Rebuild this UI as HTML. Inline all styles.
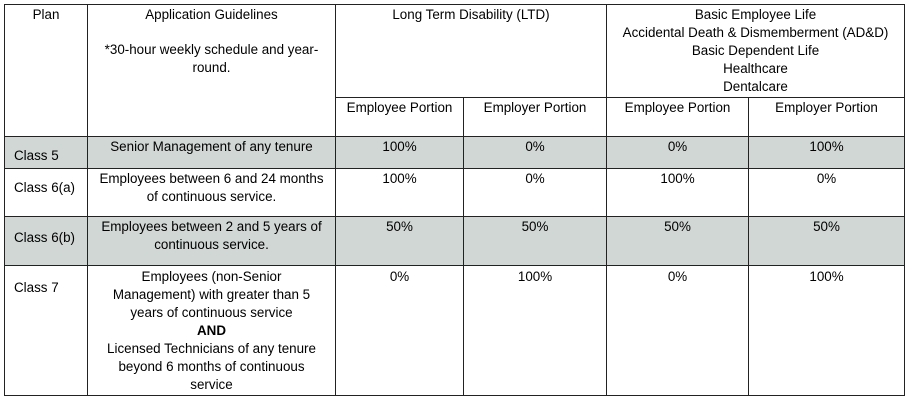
<!DOCTYPE html>
<html><head><style>
body{margin:0;width:909px;height:401px;background:#fff;position:relative;font-family:"Liberation Sans",Arial,sans-serif;font-size:13.4px;color:#000;overflow:hidden}
.b{position:absolute;box-sizing:border-box}
.h{background:#222}
.g{position:absolute;background:#d0d7d5}
.t{position:absolute;text-align:center;line-height:18px;white-space:nowrap}
</style></head><body>
<div class="g" style="left:4px;top:136px;width:900px;height:32px"></div>
<div class="g" style="left:4px;top:216px;width:900px;height:49px"></div>
<div class="b h" style="left:4px;top:4px;width:901px;height:1px"></div>
<div class="b h" style="left:335px;top:97px;width:570px;height:1px"></div>
<div class="b h" style="left:4px;top:136px;width:901px;height:1px"></div>
<div class="b h" style="left:4px;top:168px;width:901px;height:1px"></div>
<div class="b h" style="left:4px;top:216px;width:901px;height:1px"></div>
<div class="b h" style="left:4px;top:265px;width:901px;height:1px"></div>
<div class="b h" style="left:4px;top:395px;width:901px;height:1px"></div>
<div class="b h" style="left:4px;top:4px;width:1px;height:392px"></div>
<div class="b h" style="left:87px;top:4px;width:1px;height:392px"></div>
<div class="b h" style="left:335px;top:4px;width:1px;height:392px"></div>
<div class="b h" style="left:463px;top:97px;width:1px;height:299px"></div>
<div class="b h" style="left:606px;top:4px;width:1px;height:392px"></div>
<div class="b h" style="left:748px;top:97px;width:1px;height:299px"></div>
<div class="b h" style="left:904px;top:4px;width:1px;height:392px"></div>

<div class="t" style="left:5px;width:82px;top:6px">Plan</div>
<div class="t" style="left:88px;width:247px;top:6px">Application Guidelines</div>
<div class="t" style="left:88px;width:247px;top:41px">*30-hour weekly schedule and year-<br>round.</div>
<div class="t" style="left:336px;width:270px;top:6px">Long Term Disability (LTD)</div>
<div class="t" style="left:607px;width:297px;top:6px">Basic Employee Life<br>Accidental Death &amp; Dismemberment (AD&amp;D)<br>Basic Dependent Life<br>Healthcare<br>Dentalcare</div>
<div class="t" style="left:336px;width:127px;top:99px">Employee Portion</div>
<div class="t" style="left:464px;width:142px;top:99px">Employer Portion</div>
<div class="t" style="left:607px;width:141px;top:99px">Employee Portion</div>
<div class="t" style="left:749px;width:155px;top:99px">Employer Portion</div>

<div class="t" style="left:14px;top:147px;text-align:left">Class 5</div>
<div class="t" style="left:88px;width:247px;top:138px">Senior Management of any tenure</div>
<div class="t" style="left:336px;width:127px;top:138px">100%</div>
<div class="t" style="left:464px;width:142px;top:138px">0%</div>
<div class="t" style="left:607px;width:141px;top:138px">0%</div>
<div class="t" style="left:749px;width:155px;top:138px">100%</div>

<div class="t" style="left:14px;top:179px;text-align:left">Class 6(a)</div>
<div class="t" style="left:88px;width:247px;top:170px">Employees between 6 and 24 months<br>of continuous service.</div>
<div class="t" style="left:336px;width:127px;top:170px">100%</div>
<div class="t" style="left:464px;width:142px;top:170px">0%</div>
<div class="t" style="left:607px;width:141px;top:170px">100%</div>
<div class="t" style="left:749px;width:155px;top:170px">0%</div>

<div class="t" style="left:14px;top:229px;text-align:left">Class 6(b)</div>
<div class="t" style="left:88px;width:247px;top:218px">Employees between 2 and 5 years of<br>continuous service.</div>
<div class="t" style="left:336px;width:127px;top:218px">50%</div>
<div class="t" style="left:464px;width:142px;top:218px">50%</div>
<div class="t" style="left:607px;width:141px;top:218px">50%</div>
<div class="t" style="left:749px;width:155px;top:218px">50%</div>

<div class="t" style="left:14px;top:279px;text-align:left">Class 7</div>
<div class="t" style="left:88px;width:247px;top:268px">Employees (non-Senior<br>Management) with greater than 5<br>years of continuous service<br><b>AND</b><br>Licensed Technicians of any tenure<br>beyond 6 months of continuous<br>service</div>
<div class="t" style="left:336px;width:127px;top:268px">0%</div>
<div class="t" style="left:464px;width:142px;top:268px">100%</div>
<div class="t" style="left:607px;width:141px;top:268px">0%</div>
<div class="t" style="left:749px;width:155px;top:268px">100%</div>
</body></html>
